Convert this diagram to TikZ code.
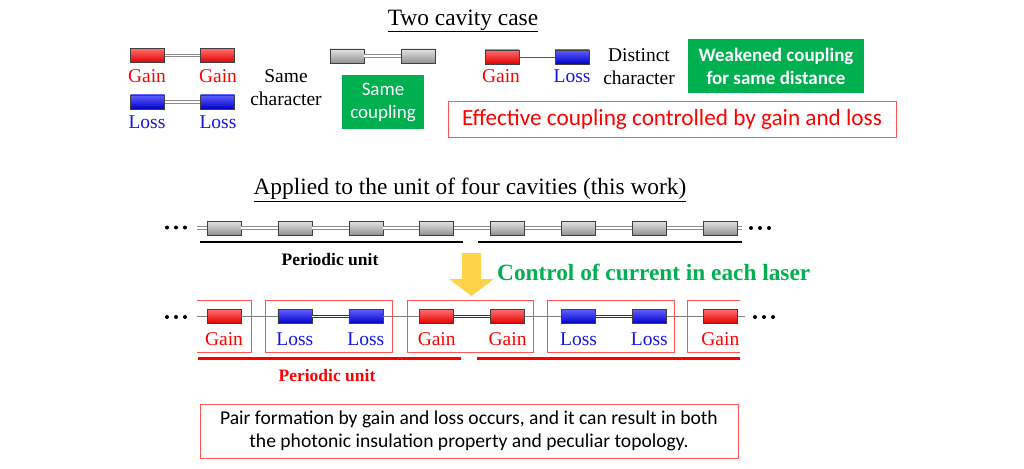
\documentclass[tikz,border=0pt]{standalone}
\usepackage{fontspec}
\setmainfont{Liberation Serif}
\newfontfamily\calfont{Carlito}
\definecolor{mygreen}{RGB}{0,176,80}
\definecolor{redtop}{RGB}{255,110,110}
\definecolor{redbot}{RGB}{225,0,0}
\definecolor{bluetop}{RGB}{95,95,255}
\definecolor{bluebot}{RGB}{0,0,200}
\definecolor{graytop}{RGB}{228,228,228}
\definecolor{graybot}{RGB}{145,145,145}
\definecolor{framered}{RGB}{255,85,85}
\definecolor{arrowyellow}{RGB}{255,211,72}
\definecolor{lossblue}{RGB}{20,20,230}
\begin{document}
\begin{tikzpicture}[x=1pt,y=-1pt,
  cav/.style={draw=black!75, line width=0.6pt, minimum width=34pt, minimum height=14pt, inner sep=0pt},
  gainbox/.style={cav, top color=redtop, bottom color=redbot},
  lossbox/.style={cav, top color=bluetop, bottom color=bluebot},
  graybox/.style={cav, top color=graytop, bottom color=graybot},
  serif/.style={font=\fontsize{19.5}{23}\selectfont, inner sep=0pt, align=center},
  gainlbl/.style={serif, text=red},
  losslbl/.style={serif, text=lossblue},
  titlelbl/.style={font=\fontsize{23.4}{26}\selectfont, inner sep=0pt},
  dbl/.style={draw=black!45, double=white, double distance=1.6pt, line width=0.9pt},
  dbldark/.style={draw=black!80, double=white, double distance=1.6pt, line width=0.9pt},
  single/.style={draw=black!65, line width=0.9pt},
  grayline/.style={draw=black!50, line width=1.4pt},
  frame/.style={draw=framered, line width=0.8pt},
  greenbox/.style={fill=mygreen, text=white, inner sep=0pt, align=center},
  dot/.style={fill=black},
  bar/.style={line width=2.6pt}
]
\useasboundingbox (0,0) rectangle (1024,468);

% ---------- Two cavity case ----------
\node[titlelbl] (t1) at (463,21) {\underline{Two cavity case}};

\node[gainbox] (gg1) at (147.5,55.5) {};
\node[gainbox] (gg2) at (217.5,55.5) {};
\draw[dbl] (gg1) -- (gg2);
\node[gainlbl] (ggl1) at (147,76) {Gain};
\node[gainlbl] (ggl2) at (218,76) {Gain};

\node[lossbox] (ll1) at (147.5,102) {};
\node[lossbox] (ll2) at (217.5,102) {};
\draw[dbl] (ll1) -- (ll2);
\node[losslbl] (lll1) at (147,122) {Loss};
\node[losslbl] (lll2) at (218,122) {Loss};

\node[serif] (samech) at (286,87.5) {Same\\character};

\node[graybox] (s1) at (347,56) {};
\node[graybox] (s2) at (418.5,56) {};
\draw[dbl] (s1) -- (s2);
\node[greenbox, minimum width=82pt, minimum height=54pt, font=\calfont\fontsize{19}{23}\selectfont] (samecoup) at (383,102) {Same\\coupling};

\node[gainbox] (gl1) at (502,57) {};
\node[lossbox] (gl2) at (572,57) {};
\draw[single] (gl1) -- (gl2);
\node[gainlbl] (gll1) at (501,76) {Gain};
\node[losslbl] (gll2) at (572,76) {Loss};

\node[serif] (distch) at (639,67) {Distinct\\character};

\node[greenbox, minimum width=176pt, minimum height=54pt, font=\calfont\bfseries\fontsize{19}{23}\selectfont] (weak) at (776,66) {Weakened coupling\\for same distance};

\node[draw=framered, line width=0.8pt, minimum width=448pt, minimum height=36pt, inner sep=0pt, text=red, font=\calfont\fontsize{23.2}{26}\selectfont] (eff) at (672,119) {Effective coupling controlled by gain and loss};

% ---------- Four cavities ----------
\node[titlelbl] (t2) at (470,190) {\underline{Applied to the unit of four cavities (this work)}};

% uniform chain
\foreach \i in {1,...,8} \node[graybox] (c\i) at ({224+70.9*(\i-1)},228) {};
\coordinate (cL) at (197,228);
\coordinate (cR) at (742,228);
\draw[dbl] (cL) -- (c1);
\foreach \i [evaluate=\i as \j using int(\i+1)] in {1,...,7} \draw[dbl] (c\i) -- (c\j);
\draw[dbl] (c8) -- (cR);
\foreach \x in {167,176,185} \fill[dot] (\x,227.5) circle (2);
\foreach \x in {751,760,769} \fill[dot] (\x,228) circle (2);

\draw[bar] (200,242) -- (463,242);
\draw[bar] (478,242) -- (742,242);
\node[font=\bfseries\fontsize{17.5}{20}\selectfont, inner sep=0pt] (pu1) at (330,260) {Periodic unit};

% arrow
\fill[arrowyellow] (462,253) -- (481,253) -- (481,279) -- (494,279) -- (471.5,296) -- (449,279) -- (462,279) -- cycle;
\node[anchor=west, text=mygreen, font=\bfseries\fontsize{23.3}{26}\selectfont, inner sep=0pt] (ctrl) at (497,272) {Control of current in each laser};

% gain/loss chain
\node[gainbox] (g1) at (224,316.5) {};
\node[lossbox] (g2) at (294.9,316.5) {};
\node[lossbox] (g3) at (365.8,316.5) {};
\node[gainbox] (g4) at (436.7,316.5) {};
\node[gainbox] (g5) at (507.6,316.5) {};
\node[lossbox] (g6) at (578.5,316.5) {};
\node[lossbox] (g7) at (649.4,316.5) {};
\node[gainbox] (g8) at (720.3,316.5) {};
\coordinate (gL) at (197,316.5);
\coordinate (gR) at (745,316.5);
\draw[grayline] (gL) -- (g1);
\draw[grayline] (g1) -- (g2);
\draw[dbldark] (g2) -- (g3);
\draw[grayline] (g3) -- (g4);
\draw[dbldark] (g4) -- (g5);
\draw[grayline] (g5) -- (g6);
\draw[dbldark] (g6) -- (g7);
\draw[grayline] (g7) -- (g8);
\draw[grayline] (g8) -- (gR);
\foreach \x in {167,176,185} \fill[dot] (\x,317) circle (2);
\foreach \x in {755,764,773} \fill[dot] (\x,317) circle (2);

\node[gainlbl] (b1) at (224,339) {Gain};
\node[losslbl] (b2) at (294.9,339) {Loss};
\node[losslbl] (b3) at (365.8,339) {Loss};
\node[gainlbl] (b4) at (436.7,339) {Gain};
\node[gainlbl] (b5) at (507.6,339) {Gain};
\node[losslbl] (b6) at (578.5,339) {Loss};
\node[losslbl] (b7) at (649.4,339) {Loss};
\node[gainlbl] (b8) at (720.3,339) {Gain};

% frames
\draw[frame] (197,300) -- (251,300) -- (251,352) -- (197,352);
\draw[frame] (265,300) rectangle (392,352);
\draw[frame] (407,300) rectangle (533,352);
\draw[frame] (547,300) rectangle (674,352);
\draw[frame] (740,300) -- (687,300) -- (687,352) -- (740,352);

\draw[bar, red, line width=3pt] (198,358) -- (461,358);
\draw[bar, red, line width=3pt] (477,358) -- (740,358);
\node[text=red, font=\bfseries\fontsize{17.5}{20}\selectfont, inner sep=0pt] (pu2) at (327,376) {Periodic unit};

\node[draw=framered, line width=0.8pt, minimum width=538pt, minimum height=54pt, inner sep=0pt, align=center, font=\calfont\fontsize{19.6}{23}\selectfont] (pair) at (469,431) {Pair formation by gain and loss occurs, and it can result in both\\the photonic insulation property and peculiar topology.};
\end{tikzpicture}
\end{document}
